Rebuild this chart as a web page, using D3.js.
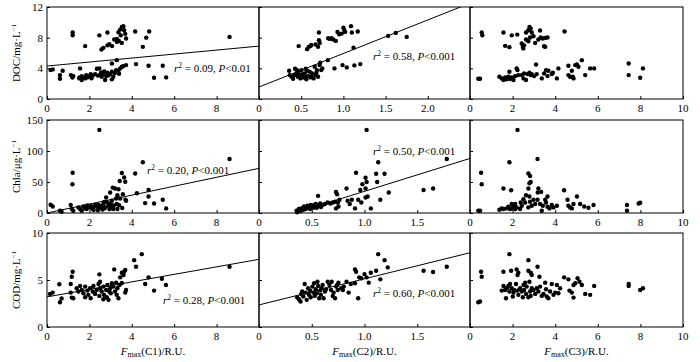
<!DOCTYPE html>
<html>
<head>
<meta charset="utf-8">
<script src="https://cdn.jsdelivr.net/npm/d3@7"></script>
<style>
  body { margin: 0; background: #fff; }
  svg text { font-family: "Liberation Serif", "DejaVu Serif", serif; fill: #000; }
</style>
</head>
<body>
<div id="chart"></div>
<script>
'use strict';

// --- data ---
const rowNames = ['DOC', 'Chla', 'COD'];
const colNames = ['C1', 'C2', 'C3'];

const docC1 = [[1.21,8.67],[1.21,8.3],[1.8,6.9],[2.47,8.3],[2.57,6.46],[2.66,6.67],[2.85,8.67],[2.85,7.0],[2.94,7.15],
  [3.07,6.9],[3.17,7.76],[3.3,7.84],[3.37,8.7],[3.45,9.05],[3.53,9.4],[3.6,9.5],[3.64,8.97],[3.69,8.5],[3.48,8.3],
  [3.39,7.58],[3.53,7.32],[3.73,7.9],[3.3,7.45],[4.16,8.8],[4.52,6.8],[4.68,8.0],[4.82,8.8],[8.61,8.1],
  [0.17,3.77],[0.27,3.86],[0.61,3.12],[0.61,2.64],[0.74,3.68],[1.13,3.12],[1.2,2.8],[1.24,2.99],[1.56,3.99],
  [1.53,2.69],[1.64,2.47],[1.53,2.82],[1.72,2.82],[1.64,2.99],[1.8,2.69],[1.9,2.82],[2.0,2.99],[2.06,3.25],
  [2.16,3.08],[2.27,3.25],[2.35,3.94],[2.47,3.99],[2.5,3.12],[2.58,2.9],[2.66,3.25],[2.79,2.99],[2.85,3.42],
  [2.98,3.25],[3.06,3.55],[3.13,2.9],[3.26,3.77],[3.37,3.68],[3.45,3.99],[3.53,4.2],[3.6,4.29],[3.73,4.42],
  [2.74,2.47],[3.06,2.56],[3.29,5.07],[3.06,4.64],[4.2,4.55],[4.79,4.33],[5.46,4.33],[5.05,2.77],[5.62,2.82],
  [2.4,3.05],[2.55,3.45],[2.7,3.6],[2.9,3.1],[3.2,3.4],[3.4,3.3],[1.85,3.1],[2.1,2.7]];
const docC2 = [[0.47,6.9],[0.57,6.5],[0.59,6.8],[0.61,6.9],[0.62,7.05],[0.67,7.1],[0.71,8.67],[0.71,7.67],[0.72,7.32],
  [0.7,6.8],[0.82,7.93],[0.84,7.84],[0.86,7.93],[0.88,7.76],[0.91,7.58],[0.93,8.75],[0.95,8.45],[0.98,8.53],
  [1.0,9.3],[1.01,9.0],[1.02,8.75],[1.09,9.5],[1.1,8.67],[1.17,8.8],[1.12,6.7],[1.53,8.23],[1.62,8.62],[1.75,8.1],
  [0.357,3.68],[0.365,3.12],[0.384,2.9],[0.404,2.64],[0.427,3.94],[0.443,3.34],[0.463,3.55],[0.482,3.12],
  [0.49,2.69],[0.502,3.77],[0.522,2.82],[0.541,3.34],[0.553,3.94],[0.561,2.56],[0.58,2.99],[0.6,3.55],
  [0.61,2.82],[0.63,3.34],[0.647,2.69],[0.66,4.2],[0.68,3.42],[0.686,3.77],[0.7,2.9],[0.718,4.42],[0.725,4.72],
  [0.737,3.77],[0.75,3.99],[0.816,5.07],[0.894,3.99],[0.99,4.42],[1.04,4.12],[1.13,4.38],[1.2,4.55],
  [0.42,3.12],[0.46,2.9],[0.51,3.25],[0.57,3.68],[0.62,2.99],[0.67,3.12],[0.45,3.75],[0.53,3.05],[0.55,2.75]];
const docC3 = [[0.55,8.67],[0.58,8.3],[1.57,8.67],[1.96,8.3],[2.22,8.4],[1.65,6.93],[1.85,6.76],[2.43,7.23],[2.48,6.8],
  [2.5,6.6],[2.54,7.0],[2.63,8.67],[2.74,8.97],[2.79,9.4],[2.85,9.19],[2.9,8.67],[2.63,7.76],[2.74,7.54],
  [2.82,8.02],[2.98,8.19],[3.06,7.32],[3.21,7.76],[3.29,8.93],[3.32,8.02],[3.42,7.89],[3.53,7.97],[3.64,8.02],
  [3.53,6.8],[3.48,6.89],[4.44,8.8],[0.39,2.64],[0.47,2.64],[1.38,2.9],[1.49,2.69],[1.57,2.47],[1.65,2.82],
  [1.72,2.56],[1.8,2.9],[1.85,3.55],[1.88,2.6],[1.96,2.82],[2.04,2.47],[2.12,2.99],[2.19,3.99],[2.23,3.77],
  [2.27,3.12],[2.43,3.12],[2.51,2.69],[2.54,3.34],[2.63,2.47],[2.7,3.25],[2.79,3.42],[2.85,3.12],[2.9,3.25],
  [3.01,2.99],[3.1,4.5],[3.13,3.25],[3.37,2.69],[3.48,3.34],[3.57,3.77],[3.64,2.99],[3.68,3.68],[3.84,3.25],
  [3.89,3.42],[4.08,2.69],[4.15,3.99],[4.62,4.33],[4.62,3.12],[4.7,2.9],[4.78,3.68],[4.83,2.9],[4.86,2.69],
  [4.94,4.42],[5.02,4.5],[5.09,4.2],[5.25,5.07],[5.41,3.12],[5.64,3.99],[5.83,3.99],[7.45,4.64],[7.45,3.12],
  [7.99,2.77],[8.12,3.99]];

const chlaC1 = [[0.17,13.3],[0.27,10.6],[0.61,3.7],[0.69,2.1],[1.12,12.8],[1.21,64.9],[1.2,46.3],[1.17,6.4],[1.24,3.7],
  [1.48,9.0],[1.56,6.4],[1.64,3.7],[1.72,10.6],[1.8,7.4],[1.87,6.4],[1.95,9.0],[2.03,11.7],[2.11,7.4],[2.19,10.6],
  [2.27,12.8],[2.35,10.6],[2.43,12.8],[2.5,8.5],[2.58,11.7],[2.66,14.4],[2.69,7.4],[2.47,134],
  [2.79,25],[2.85,17],[2.9,11.7],[2.98,33],[3.06,19.7],[3.1,41],[3.13,6.4],[3.21,39.4],[3.26,23.4],[3.29,14.4],
  [3.32,6.4],[3.37,38.3],[3.43,51.6],[3.45,23.4],[3.53,64.4],[3.58,30.3],[3.64,57.4],[3.69,50.5],[3.7,21.3],
  [3.73,19.7],[3.32,28.7],[4.16,63.8],[4.52,81.9],[4.24,31.9],[4.63,16],[4.79,26.6],[4.79,37.2],[5.05,15.4],
  [5.46,21.3],[5.62,7.4],[8.61,87.2],[2.62,5.5],[2.75,8.8],[2.95,6.2],[3.05,10.2],[3.4,12.5],[3.55,8.0],
  [2.2,5.0],[1.9,12.0],[2.4,4.5],[3.0,15.0],[3.15,12.0],[2.7,18.0]];
const chlaC2 = [[1.02,134],[1.13,81.9],[1.78,87.2],[1.56,37.2],[1.65,39.4],[0.92,64.9],[1.11,63.3],[1.19,63.3],
  [1.01,56.9],[1.02,50],[1.12,50],[0.98,46.3],[0.96,37.2],[1.01,39.4],[0.83,39.4],[0.73,34],[0.74,30.3],
  [0.56,27.7],[1.23,33],[1.03,26.6],[1.01,25],[1.15,21.3],[1.06,7.4],[0.91,7.4],[0.86,14.4],[0.88,21.3],
  [0.94,21.3],[0.97,17],[0.84,19.7],[0.356,3.7],[0.378,6.4],[0.4,7.4],[0.426,10.6],[0.442,6.4],[0.458,11.7],
  [0.474,9.0],[0.49,12.8],[0.506,10.6],[0.522,12.8],[0.538,14.4],[0.561,11.7],[0.58,15.4],[0.603,12.8],
  [0.625,14.4],[0.65,17],[0.676,15.4],[0.7,17],[0.72,18.1],[0.362,1.1],[0.394,3.2],[0.42,5.3],[0.452,8.5],
  [0.484,6.4],[0.516,8.5],[0.548,8.5],[0.587,9.6],[0.747,17],[0.753,10.6],[0.73,7.4],[0.763,21.3]];
const chlaC3 = [[2.23,134],[1.85,81.9],[3.17,87.2],[0.52,64.9],[0.55,46.3],[0.39,3.7],[0.47,3.7],[1.57,39.4],[1.93,36.7],
  [2.74,63.8],[2.82,59.6],[2.85,50],[2.79,47.9],[2.74,39.4],[3.21,39.4],[3.34,34],[3.18,33],[2.63,28.7],
  [2.79,26.6],[2.51,22.3],[2.59,17],[2.82,18.1],[2.98,21.3],[3.17,21.3],[3.06,14.4],[2.9,11.7],[2.74,9.0],
  [2.43,11.7],[2.35,6.4],[2.19,9.0],[2.12,6.4],[2.04,11.7],[1.96,7.4],[1.88,6.4],[1.8,10.1],[1.72,7.4],
  [1.57,6.4],[1.49,7.4],[1.38,5.3],[3.29,14.4],[3.42,11.7],[3.53,21.3],[3.57,17],[3.64,10.1],[3.73,7.4],
  [3.84,12.8],[3.92,9.0],[4.08,11.7],[3.37,3.7],[3.64,26.6],[4.42,36.7],[4.58,21.3],[4.62,11.7],[4.7,9.0],
  [4.78,7.4],[4.86,14.4],[5.02,26.6],[5.17,14.4],[5.36,10.6],[5.56,8.5],[5.8,12.8],[7.37,12.8],[7.37,3.7],
  [7.92,15.4],[7.99,16.5],[2.38,17],[1.96,14.4],[2.12,14.4]];

const codC1 = [[0.14,3.52],[0.27,3.66],[0.58,4.54],[0.61,2.64],[0.69,3.03],[1.12,4.58],[1.17,5.35],[1.21,5.88],
  [1.12,3.66],[1.17,3.13],[1.24,3.06],[2.47,5.6],[3.17,6.13],[4.11,7.11],[4.2,6.41],[4.47,7.75],[4.79,5.28],
  [4.63,4.58],[5.05,3.87],[5.42,5.14],[5.61,4.47],[8.61,6.41],[3.53,5.77],[3.64,5.88],[3.69,6.06],[3.61,5.53],
  [3.45,5.28],[3.73,3.94],[3.69,3.66],[3.53,4.68],[1.4,4.12],[1.48,3.77],[1.56,4.37],[1.64,3.94],[1.72,3.59],
  [1.8,3.17],[1.8,4.3],[1.91,3.87],[1.95,3.42],[2.03,4.12],[2.06,3.06],[2.16,3.77],[2.19,4.37],[2.27,3.52],
  [2.35,3.94],[2.43,4.58],[2.47,3.31],[2.5,4.12],[2.58,3.77],[2.66,4.3],[2.69,3.42],[2.79,3.94],[2.82,3.17],
  [2.85,4.47],[2.94,3.77],[2.98,4.12],[3.01,3.59],[3.06,4.65],[3.13,4.3],[3.21,3.77],[3.26,4.72],[3.29,3.42],
  [3.32,4.12],[3.37,3.06],[3.42,4.47],[2.9,2.89],[2.5,4.82],[2.66,2.96]];
const codC2 = [[1.13,7.75],[1.19,7.11],[1.22,6.34],[1.15,5.07],[0.91,6.13],[0.92,5.88],[0.94,3.06],[0.85,3.66],
  [1.56,5.99],[1.65,5.85],[1.78,6.41],[1.0,5.63],[1.02,5.28],[1.04,4.72],[1.06,5.77],[1.11,5.99],[0.97,5.18],
  [0.95,5.28],[0.83,4.82],[0.87,4.58],[0.91,4.65],[0.362,3.17],[0.378,2.96],[0.394,2.71],[0.4,3.52],[0.41,3.77],
  [0.42,3.24],[0.433,4.58],[0.442,3.66],[0.452,2.89],[0.465,4.12],[0.474,3.42],[0.484,3.87],[0.49,3.17],
  [0.506,4.3],[0.516,3.66],[0.522,4.65],[0.529,3.31],[0.538,4.01],[0.548,3.59],[0.554,4.82],[0.561,4.37],
  [0.571,3.06],[0.58,3.87],[0.587,3.42],[0.593,4.12],[0.603,4.47],[0.612,3.06],[0.625,3.77],[0.635,4.01],
  [0.651,4.82],[0.667,4.47],[0.683,3.94],[0.689,4.82],[0.699,3.31],[0.708,3.66],[0.721,3.06],[0.731,4.3],
  [0.74,4.47],[0.747,3.94],[0.753,4.72],[0.779,4.12],[0.795,3.94],[0.804,4.3]];
const codC3 = [[0.39,2.64],[0.47,2.71],[0.52,5.88],[0.55,5.35],[1.57,5.88],[1.93,5.99],[1.85,7.75],[2.74,7.11],
  [3.17,6.41],[2.19,6.13],[2.27,5.77],[2.23,5.53],[2.74,5.99],[2.85,5.77],[2.9,5.53],[3.26,5.35],[4.42,5.28],
  [4.62,5.07],[5.05,5.18],[5.14,4.82],[5.25,4.47],[7.45,4.58],[7.45,4.37],[7.99,3.94],[8.12,4.12],[5.83,4.37],
  [5.41,3.52],[5.64,3.42],[4.86,4.47],[4.94,4.65],[4.67,3.87],[4.78,3.66],[4.86,3.13],[1.49,3.87],[1.57,4.37],
  [1.65,3.94],[1.69,3.06],[1.72,4.12],[1.8,4.37],[1.85,3.77],[1.88,4.58],[1.96,4.12],[2.01,3.24],[2.04,3.66],
  [2.07,3.94],[2.16,4.58],[2.23,3.87],[2.27,3.42],[2.35,4.12],[2.43,3.77],[2.48,3.17],[2.51,4.47],[2.54,3.94],
  [2.59,4.72],[2.63,3.52],[2.66,4.3],[2.74,3.17],[2.79,4.82],[2.82,3.77],[2.85,3.31],[2.9,4.12],[2.98,3.94],
  [3.06,3.52],[3.13,4.12],[3.21,3.77],[3.29,4.3],[3.37,3.31],[3.45,3.52],[3.53,4.72],[3.57,4.01],[3.6,3.24],
  [3.68,3.06],[3.76,3.77],[3.84,4.58],[3.92,3.42],[4.0,3.66],[4.08,4.47],[4.15,3.59],[4.23,4.12]];

// regression lines: [x0, y0, x1, y1] (null = no fit)
const fitDOC = [[0, 4.3, 10, 6.9], [0, 1.56, 2.5, 12.5], null];
const fitChla = [[0, 0, 10, 72], [0.34, 0, 2, 88], null];
const fitCOD = [[0, 3.2, 10, 7.2], [0, 2.35, 2, 7.9], null];

const statR2 = [['0.09', '0.58', null], ['0.20', '0.50', null], ['0.28', '0.60', null]];
const statP = [['0.01', '0.001', null], ['0.001', '0.001', null], ['0.001', '0.001', null]];

const yDomains = [[0, 12], [0, 150], [0, 10]];
const yTicks = [[0, 4, 8, 12], [0, 50, 100, 150], [0, 5, 10]];
const yUnits = ['mg·L', 'μg·L', 'mg·L'];

const xDomainC1 = [0, 10];
const xDomainC2Top = [0, 2.5];
const xDomainC2 = [0, 2];
const xDomainC3 = [0, 10];
const xTicksC1 = [0, 2, 4, 6, 8];
const xTicksC2Top = [0, 0.5, 1.0, 1.5, 2.0];
const xTicksC2 = [0, 0.5, 1.0, 1.5];
const xTicksC3 = [0, 2, 4, 6, 8, 10];

// --- layout ---
const width = 700;
const height = 362;
const colX = [[47, 259], [259, 470], [470, 683]];
const rowY = [[7, 99], [120, 213], [233, 327]];
const fontSize = 11;
const noteSize = 11;

const points = [[docC1, docC2, docC3], [chlaC1, chlaC2, chlaC3], [codC1, codC2, codC3]];
const fits = [fitDOC, fitChla, fitCOD];
// annotation offsets from the panel's left/top edge (baseline)
const notePos = [[[127, 65], [114, 53]], [[100, 54], [114, 35]], [[116, 71], [114, 64]]];

const svg = d3.select('#chart')
  .append('svg')
  .attr('width', width)
  .attr('height', height);

const defs = svg.append('defs');

rowNames.forEach((rowName, r) => {
  colNames.forEach((colName, c) => {
    let xDomain = xDomainC1;
    let xTicks = xTicksC1;
    if (c === 1) {
      xDomain = r === 0 ? xDomainC2Top : xDomainC2;
      xTicks = r === 0 ? xTicksC2Top : xTicksC2;
    } else if (c === 2) {
      xDomain = xDomainC3;
      xTicks = xTicksC3;
    }

    const scaleX = d3.scaleLinear().domain(xDomain).range(colX[c]);
    const scaleY = d3.scaleLinear().domain(yDomains[r]).range([rowY[r][1], rowY[r][0]]);

    const g = svg.append('g').attr('class', `panel-${r}-${c}`);
    const clipId = `clip-${r}-${c}`;
    defs.append('clipPath').attr('id', clipId)
      .append('rect')
      .attr('x', colX[c][0]).attr('y', rowY[r][0])
      .attr('width', colX[c][1] - colX[c][0])
      .attr('height', rowY[r][1] - rowY[r][0]);

    // frame
    g.append('rect')
      .attr('x', colX[c][0]).attr('y', rowY[r][0])
      .attr('width', colX[c][1] - colX[c][0])
      .attr('height', rowY[r][1] - rowY[r][0])
      .attr('fill', 'none')
      .attr('stroke', '#000')
      .attr('stroke-width', 1);

    // y axis (inward ticks, labels only on first column)
    const yAxis = d3.axisRight(scaleY)
      .tickValues(yTicks[r])
      .tickSize(3)
      .tickFormat('');
    g.append('g')
      .attr('transform', `translate(${colX[c][0]},0)`)
      .call(yAxis)
      .call(a => a.select('.domain').remove())
      .call(a => a.selectAll('line').attr('stroke', '#000'));
    if (c === 0) {
      g.selectAll('.ylab')
        .data(yTicks[r])
        .enter()
        .append('text')
        .attr('class', 'ylab')
        .attr('x', colX[c][0] - 4)
        .attr('y', d => scaleY(d))
        .attr('dy', '0.35em')
        .attr('text-anchor', 'end')
        .attr('font-size', fontSize)
        .text(d => d);
    }

    // x axis (inward ticks + labels below)
    const xAxis = d3.axisTop(scaleX)
      .tickValues(xTicks)
      .tickSize(3)
      .tickFormat('');
    g.append('g')
      .attr('transform', `translate(0,${rowY[r][1]})`)
      .call(xAxis)
      .call(a => a.select('.domain').remove())
      .call(a => a.selectAll('line').attr('stroke', '#000'));
    g.selectAll('.xlab')
      .data(xTicks)
      .enter()
      .append('text')
      .attr('class', 'xlab')
      .attr('x', d => scaleX(d))
      .attr('y', rowY[r][1] + 9)
      .attr('dy', '0.35em')
      .attr('text-anchor', 'middle')
      .attr('font-size', fontSize)
      .text(d => (c === 1 && d !== 0) ? d3.format('.1f')(d) : d);

    // regression line
    const fit = fits[r][c];
    if (fit) {
      g.append('line')
        .attr('clip-path', `url(#${clipId})`)
        .attr('x1', scaleX(fit[0])).attr('y1', scaleY(fit[1]))
        .attr('x2', scaleX(fit[2])).attr('y2', scaleY(fit[3]))
        .attr('stroke', '#000')
        .attr('stroke-width', 1);
    }

    // points
    g.selectAll('circle')
      .data(points[r][c])
      .enter()
      .append('circle')
      .attr('cx', d => scaleX(d[0]))
      .attr('cy', d => scaleY(d[1]))
      .attr('r', 2.2)
      .attr('fill', '#000');

    // r², P annotation
    if (statR2[r][c]) {
      const t = g.append('text')
        .attr('x', colX[c][0] + notePos[r][c][0])
        .attr('y', rowY[r][0] + notePos[r][c][1])
        .attr('font-size', noteSize);
      t.append('tspan').attr('font-style', 'italic').text('r');
      t.append('tspan').attr('font-size', 7.5).attr('dy', -4).text('2');
      t.append('tspan').attr('dy', 4).text(` = ${statR2[r][c]}, `);
      t.append('tspan').attr('font-style', 'italic').text('P');
      t.append('tspan').text(`<${statP[r][c]}`);
    }
  });

  // y title
  const cy = (rowY[r][0] + rowY[r][1]) / 2;
  const yt = svg.append('text')
    .attr('transform', `translate(20,${cy}) rotate(-90)`)
    .attr('text-anchor', 'middle')
    .attr('font-size', fontSize);
  yt.append('tspan').text(`${rowName}/${yUnits[r]}`);
  yt.append('tspan').attr('font-size', 7).attr('dy', -4).text('−1');
});

// x titles
colNames.forEach((colName, c) => {
  const cx = (colX[c][0] + colX[c][1]) / 2;
  const t = svg.append('text')
    .attr('x', cx)
    .attr('y', 355)
    .attr('text-anchor', 'middle')
    .attr('font-size', fontSize);
  t.append('tspan').attr('font-style', 'italic').text('F');
  t.append('tspan').attr('font-size', 8).attr('dy', 2).text('max');
  t.append('tspan').attr('dy', -2).text(`(${colName})/R.U.`);
});
</script>
</body>
</html>
